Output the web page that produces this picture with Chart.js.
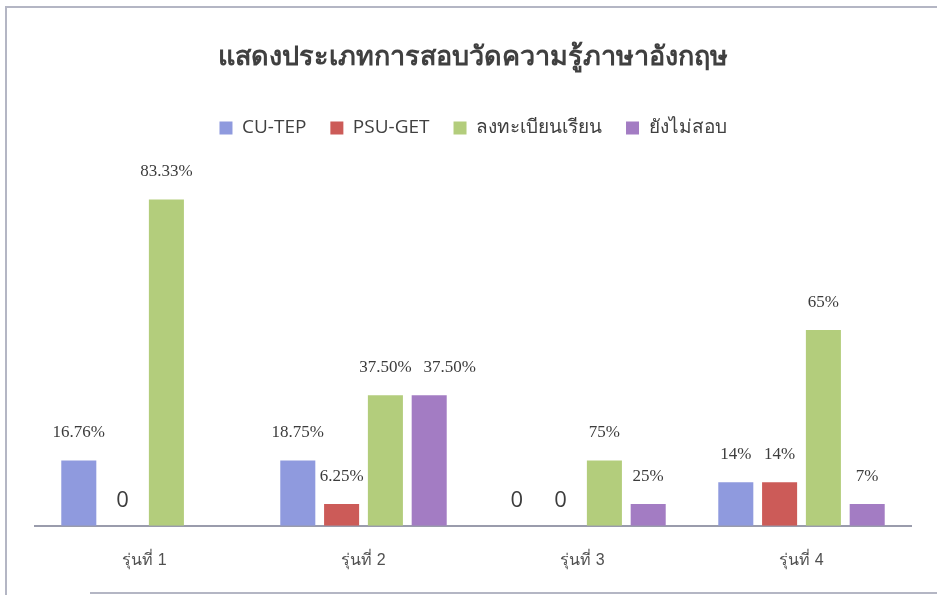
<!DOCTYPE html>
<html>
<head>
<meta charset="utf-8">
<script src="https://cdn.jsdelivr.net/npm/chart.js@4/dist/chart.umd.min.js"></script>
<style>
html,body{margin:0;padding:0;background:#fff;}
#wrap{width:937px;height:595px;position:relative;}
</style>
</head>
<body>
<div id="wrap"><canvas id="c" width="937" height="595"></canvas></div>
<script>
// categories (cohorts)
const categories = ['รุ่นที่ 1', 'รุ่นที่ 2', 'รุ่นที่ 3', 'รุ่นที่ 4'];
const seriesNames = ['CU-TEP', 'PSU-GET', 'ลงทะเบียนเรียน', 'ยังไม่สอบ'];
// bar heights (number of people)
const cuTep      = [3, 3, 0, 2];
const psuGet     = [0, 1, 0, 2];
const registered = [15, 6, 3, 9];
const notTaken   = [null, 6, 1, 1];
// value labels as printed on the chart
const cuTepLabels      = ['16.76%', '18.75%', '0', '14%'];
const psuGetLabels     = ['0', '6.25%', '0', '14%'];
const registeredLabels = ['83.33%', '37.50%', '75%', '65%'];
const notTakenLabels   = ['', '37.50%', '25%', '7%'];

const colors = ['#8f9ade', '#cc5b58', '#b3cd7c', '#a37cc3'];
const allValues = [cuTep, psuGet, registered, notTaken];
const allLabels = [cuTepLabels, psuGetLabels, registeredLabels, notTakenLabels];

const frame = {
  id: 'frame',
  beforeDraw(chart) {
    const ctx = chart.ctx;
    ctx.save();
    ctx.fillStyle = '#fff';
    ctx.fillRect(0, 0, chart.width, chart.height);
    ctx.strokeStyle = '#b4b6c4';
    ctx.lineWidth = 2;
    ctx.beginPath();
    ctx.moveTo(6, 595); ctx.lineTo(6, 7); ctx.lineTo(937, 7);
    ctx.moveTo(90, 593); ctx.lineTo(937, 593);
    ctx.stroke();
    ctx.restore();
  }
};

const valueLabels = {
  id: 'valueLabels',
  afterDatasetsDraw(chart) {
    const ctx = chart.ctx;
    const base = chart.scales.y.getPixelForValue(0);
    ctx.save();
    ctx.textAlign = 'center';
    ctx.textBaseline = 'middle';
    const n = chart.data.labels.length;
    for (let i = 0; i < n; i++) {
      let prevRight = -Infinity, prevY = null;
      chart.data.datasets.forEach((ds, di) => {
        const bar = chart.getDatasetMeta(di).data[i];
        const txt = allLabels[di][i];
        if (!txt || !bar) return;
        let x = bar.x, y;
        if (txt === '0') {
          ctx.font = '22px "Open Sans", "Liberation Sans", sans-serif';
          y = base - 25;
        } else {
          ctx.font = '17px "Liberation Serif", "DejaVu Serif", serif';
          y = bar.y - 28;
        }
        const w = ctx.measureText(txt).width;
        if (prevY !== null && Math.abs(prevY - y) < 16 && x - w / 2 < prevRight + 12) {
          x = prevRight + 12 + w / 2;
        }
        ctx.fillStyle = '#3c3c3c';
        ctx.fillText(txt, x, y);
        prevRight = x + w / 2; prevY = y;
      });
    }
    ctx.restore();
  }
};

new Chart(document.getElementById('c'), {
  type: 'bar',
  data: {
    labels: categories,
    datasets: seriesNames.map((n, i) => ({
      label: n,
      data: allValues[i],
      backgroundColor: colors[i],
      borderWidth: 0,
      barPercentage: 0.8,
      categoryPercentage: 0.8
    }))
  },
  options: {
    responsive: false,
    animation: false,
    devicePixelRatio: 1,
    layout: { padding: { left: 35, right: 26, top: 0, bottom: 0 } },
    plugins: {
      tooltip: { enabled: false },
      title: {
        display: true,
        text: 'แสดงประเภทการสอบวัดความรู้ภาษาอังกฤษ',
        color: '#404040',
        font: { size: 27, weight: 'bold', family: '"Liberation Serif", serif' },
        padding: { top: 42, bottom: 20 }
      },
      legend: {
        display: true,
        position: 'top',
        labels: {
          boxWidth: 13,
          boxHeight: 13,
          padding: 24,
          color: '#404040',
          font: { size: 19, family: '"Open Sans", "Liberation Sans", sans-serif' }
        }
      }
    },
    scales: {
      x: {
        grid: { display: false, drawTicks: false },
        border: { display: true, color: '#9a9cac', width: 2 },
        ticks: {
          padding: 25,
          color: '#505050',
          font: { size: 16, family: '"Liberation Sans Narrow", "Liberation Sans", sans-serif' }
        }
      },
      y: {
        display: false,
        min: 0,
        max: 17.4
      }
    }
  },
  plugins: [frame, valueLabels]
});
</script>
</body>
</html>
